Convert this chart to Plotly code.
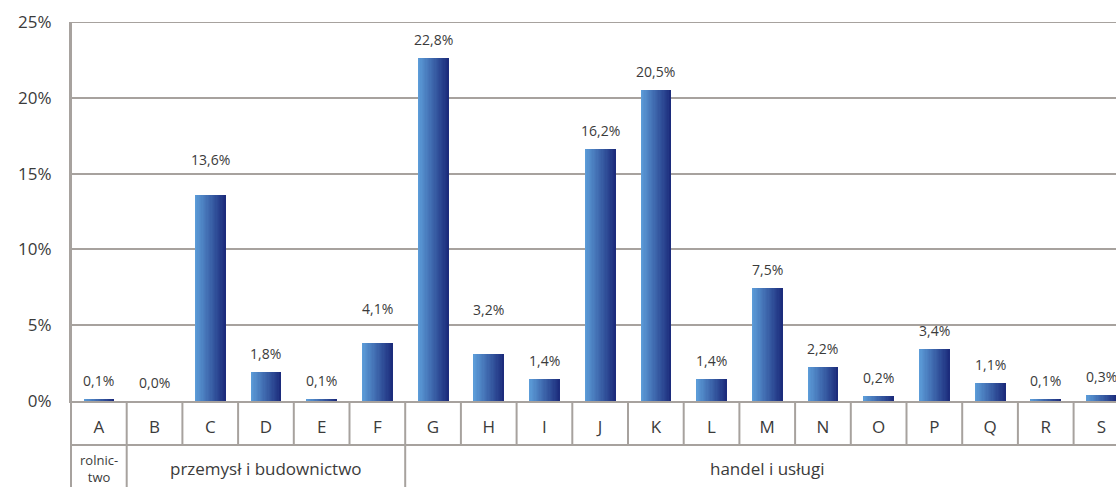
import plotly.graph_objects as go

categories = ["A", "B", "C", "D", "E", "F", "G", "H", "I", "J", "K", "L", "M", "N", "O", "P", "Q", "R", "S"]
bar_values = [0.1, 0.0, 13.6, 1.9, 0.1, 3.8, 22.6, 3.1, 1.45, 16.6, 20.5, 1.45, 7.45, 2.25, 0.3, 3.4, 1.2, 0.1, 0.4]
value_labels = ["0,1%", "0,0%", "13,6%", "1,8%", "0,1%", "4,1%", "22,8%", "3,2%", "1,4%", "16,2%",
                "20,5%", "1,4%", "7,5%", "2,2%", "0,2%", "3,4%", "1,1%", "0,1%", "0,3%"]
groups = ["rolnic-<br>two", "przemysł i budownictwo", "handel i usługi"]
group_spans = [(0, 0), (1, 5), (6, 18)]
y_ticks = [0, 5, 10, 15, 20, 25]

W, H = 1116, 487
ML, MR, MT, MB = 71, 0, 22, 86
plot_h = H - MT - MB
row1 = -44 / plot_h
row2 = -MB / plot_h

GRID = "#a7a29e"
TXT = "#3b3b3b"
FONT = "Open Sans"

# extra label lift (px) where the source placed labels higher above the bar
label_lift = {"C": 17, "F": 16, "H": 26}

c0 = (92, 156, 216)
c1 = (28, 44, 124)

fig = go.Figure()
bw = 0.55
N = 24
for k in range(N):
    t = k / (N - 1)
    col = "rgb(%d,%d,%d)" % tuple(round(a + (b - a) * t) for a, b in zip(c0, c1))
    sw = bw / N
    fig.add_trace(go.Bar(
        x=categories, y=bar_values,
        width=sw * (1.6 if k < N - 1 else 1.0),
        offset=-bw / 2 + k * sw,
        marker=dict(color=col, line=dict(width=0)),
        hoverinfo="skip", showlegend=False,
    ))

annotations = []
for c, v, lab in zip(categories, bar_values, value_labels):
    annotations.append(dict(x=c, y=v, xref="x", yref="y", text=lab, showarrow=False,
                            yanchor="bottom", yshift=7 + label_lift.get(c, 0),
                            font=dict(family=FONT, size=14, color=TXT)))

for g, (a, b) in zip(groups, group_spans):
    small = "<br>" in g
    annotations.append(dict(x=(a + b) / 2, y=(row1 + row2) / 2, xref="x", yref="paper", text=g,
                            showarrow=False, yanchor="middle", yshift=-2,
                            font=dict(family=FONT, size=(13 if small else 17), color=TXT)))

shapes = []
line = dict(color=GRID, width=2)
for k in range(1, len(categories)):
    bottom = row2 if k in (1, 6) else row1
    shapes.append(dict(type="line", xref="x", yref="paper", x0=k - 0.5, x1=k - 0.5, y0=0, y1=bottom, line=line))
shapes.append(dict(type="line", xref="paper", yref="paper", x0=0, x1=0, y0=1, y1=row2, line=line))
shapes.append(dict(type="line", xref="paper", yref="paper", x0=0, x1=1, y0=row1, y1=row1, line=line))
shapes.append(dict(type="line", xref="paper", yref="y", x0=0, x1=1, y0=25, y1=25, line=line))

fig.update_layout(
    width=W, height=H,
    margin=dict(l=ML, r=MR, t=MT, b=MB),
    paper_bgcolor="white", plot_bgcolor="white",
    barmode="overlay", bargap=0,
    annotations=annotations, shapes=shapes,
    font=dict(family=FONT, color=TXT),
    xaxis=dict(type="category", range=[-0.5, -0.5 + (W - ML) / 55.7],
               showgrid=False, zeroline=False, showline=True, linecolor=GRID, linewidth=2,
               ticks="", tickfont=dict(family=FONT, size=17, color=TXT), ticklabelstandoff=10),
    yaxis=dict(range=[0, 25], tickvals=y_ticks, ticktext=["%d%%" % v for v in y_ticks],
               showgrid=True, gridcolor=GRID, gridwidth=2, zeroline=False,
               showline=True, linecolor=GRID, linewidth=2, ticks="",
               tickfont=dict(family=FONT, size=17, color=TXT), ticklabelstandoff=14),
)

fig.write_html("out.html", config={"displayModeBar": False},
               post_script="document.body.style.margin='0px';document.body.style.overflow='hidden';")
